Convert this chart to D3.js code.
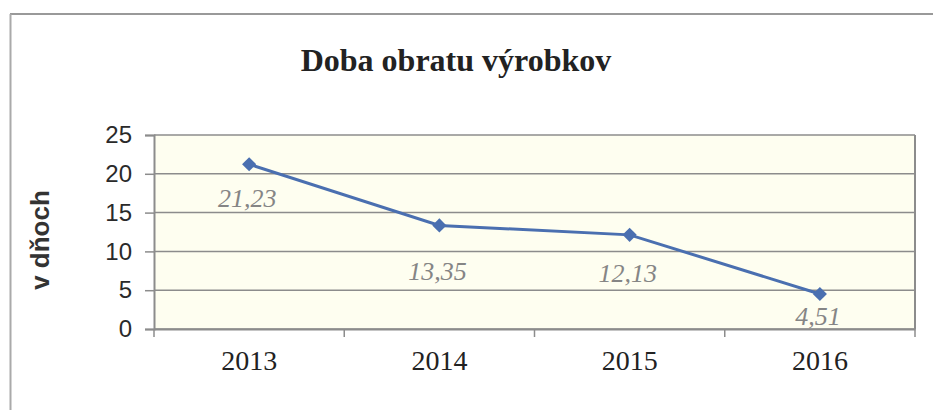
<!DOCTYPE html>
<html>
<head>
<meta charset="utf-8">
<script src="https://cdn.jsdelivr.net/npm/d3@7"></script>
<style>
  body { margin: 0; background: #fff; }
  svg { display: block; }
</style>
</head>
<body>
<div id="chart"></div>
<script>
// data
var years = ["2013", "2014", "2015", "2016"];
var values = [21.23, 13.35, 12.13, 4.51];
var labels = ["21,23", "13,35", "12,13", "4,51"];
var yTicks = [0, 5, 10, 15, 20, 25];

var width = 933;
var height = 410;
var plotLeft = 154, plotRight = 915, plotTop = 135, plotBottom = 329;

var svg = d3.select('#chart')
    .append('svg')
    .attr('width', width)
    .attr('height', height);

// outer frame
svg.append("line")
    .attr("x1", 10).attr("x2", 933).attr("y1", 14).attr("y2", 14)
    .attr("stroke", "#999").attr("stroke-width", 2);
svg.append("line")
    .attr("x1", 10.5).attr("x2", 10.5).attr("y1", 14).attr("y2", 410)
    .attr("stroke", "#aaa").attr("stroke-width", 2);

// title
svg.append("text")
    .attr("x", 456)
    .attr("y", 71)
    .attr("text-anchor", "middle")
    .style("font-family", "'Liberation Serif', 'Times New Roman', serif")
    .style("font-weight", "bold")
    .style("font-size", "32px")
    .attr("fill", "#222")
    .text("Doba obratu výrobkov");

// scales
var xscale = d3.scaleBand()
    .domain(years)
    .range([plotLeft, plotRight]);

var yscale = d3.scaleLinear()
    .domain([0, 25])
    .range([plotBottom, plotTop]);

// plot background
svg.append("rect")
    .attr("x", plotLeft).attr("y", plotTop)
    .attr("width", plotRight - plotLeft).attr("height", plotBottom - plotTop)
    .attr("fill", "#fefef0");

// gridlines
svg.selectAll(".grid")
    .data(yTicks)
    .enter()
    .append("line")
    .attr("x1", plotLeft).attr("x2", plotRight)
    .attr("y1", d => yscale(d)).attr("y2", d => yscale(d))
    .attr("stroke", "#8c8c8c")
    .attr("stroke-width", 1.5);

// right border
svg.append("line")
    .attr("x1", plotRight).attr("x2", plotRight).attr("y1", plotTop).attr("y2", plotBottom)
    .attr("stroke", "#8c8c8c").attr("stroke-width", 2);

// y axis
var yaxis = d3.axisLeft(yscale).tickValues(yTicks).tickSize(9).tickPadding(13);
var gy = svg.append("g")
    .attr("transform", "translate(" + plotLeft + ",0)")
    .call(yaxis);
gy.select(".domain").attr("stroke", "#8c8c8c").attr("stroke-width", 2);
gy.selectAll(".tick line").attr("stroke", "#8c8c8c").attr("stroke-width", 1.5);
gy.selectAll(".tick text")
    .style("font-family", "'Liberation Sans', Arial, sans-serif")
    .style("font-size", "24px")
    .attr("fill", "#2a2a2a");

// x axis
var xaxis = d3.axisBottom(xscale).tickSize(0).tickPadding(21);
var gx = svg.append("g")
    .attr("transform", "translate(0," + plotBottom + ")")
    .call(xaxis);
gx.select(".domain").attr("stroke", "#8c8c8c").attr("stroke-width", 2);
gx.selectAll(".tick text")
    .style("font-family", "'Liberation Serif', 'Times New Roman', serif")
    .style("font-size", "28px")
    .attr("fill", "#222");

// category separators
svg.selectAll(".sep")
    .data(years.concat(["end"]))
    .enter()
    .append("line")
    .attr("x1", (d, i) => plotLeft + i * xscale.step())
    .attr("x2", (d, i) => plotLeft + i * xscale.step())
    .attr("y1", plotBottom).attr("y2", plotBottom + 8)
    .attr("stroke", "#8c8c8c").attr("stroke-width", 1.5);

// y title
svg.append("text")
    .attr("transform", "translate(49,240) rotate(-90)")
    .attr("text-anchor", "middle")
    .style("font-family", "'Liberation Sans', Arial, sans-serif")
    .style("font-weight", "bold")
    .style("font-size", "26px")
    .attr("fill", "#333")
    .text("v dňoch");

var cx = d => xscale(d) + xscale.bandwidth() / 2;

// line
var line = d3.line()
    .x((d, i) => cx(years[i]))
    .y(d => yscale(d));

svg.append("path")
    .datum(values)
    .attr("d", line)
    .attr("fill", "none")
    .attr("stroke", "#4a6fb0")
    .attr("stroke-width", 3);

// markers
svg.selectAll(".mark")
    .data(values)
    .enter()
    .append("path")
    .attr("d", d3.symbol().type(d3.symbolSquare).size(100))
    .attr("transform", (d, i) => "translate(" + cx(years[i]) + "," + yscale(d) + ") rotate(45)")
    .attr("fill", "#4a6fb0");

// data labels (moved by hand in the original, so each has its own offset)
var labelDy = [43, 55, 47, 31];
svg.selectAll(".lbl")
    .data(values)
    .enter()
    .append("text")
    .attr("x", (d, i) => cx(years[i]) - 2)
    .attr("y", (d, i) => yscale(d) + labelDy[i])
    .attr("text-anchor", "middle")
    .style("font-family", "'Liberation Serif', 'Times New Roman', serif")
    .style("font-style", "italic")
    .style("font-size", "26px")
    .attr("fill", "#858585")
    .text((d, i) => labels[i]);
</script>
</body>
</html>
